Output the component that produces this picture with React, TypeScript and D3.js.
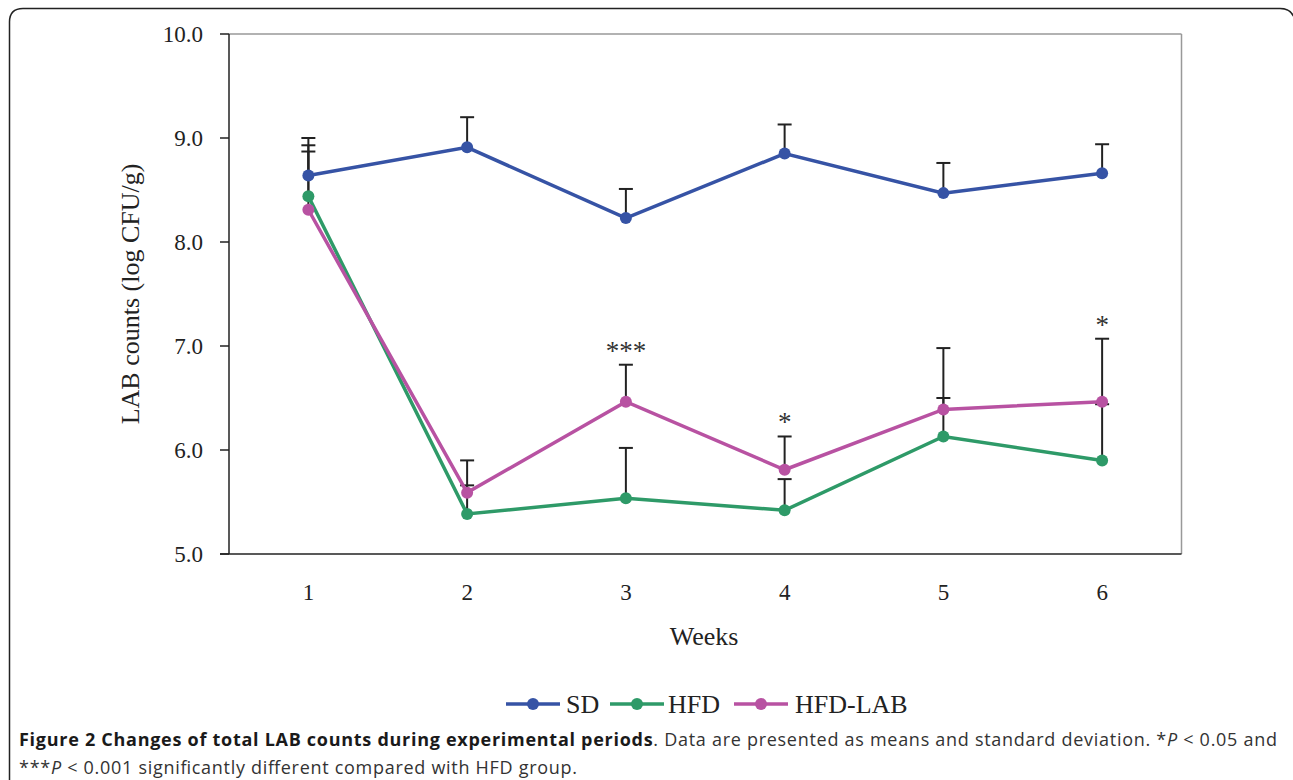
import React from "react";
import * as d3 from "d3";

const weeks = [1, 2, 3, 4, 5, 6];
const sdMean = [8.64, 8.91, 8.23, 8.85, 8.47, 8.66];
const sdErr = [9.0, 9.2, 8.51, 9.13, 8.76, 8.94];
const hfdMean = [8.44, 5.385, 5.535, 5.42, 6.13, 5.9];
const hfdErr = [8.93, 5.66, 6.02, 5.72, 6.5, 6.44];
const labMean = [8.31, 5.59, 6.465, 5.81, 6.39, 6.465];
const labErr = [8.87, 5.9, 6.82, 6.13, 6.98, 7.07];
const yTicks = [5, 6, 7, 8, 9, 10];
const marks = [
  { week: 3, value: 6.82, text: "***" },
  { week: 4, value: 6.13, text: "*" },
  { week: 6, value: 7.07, text: "*" },
];

const seriesList = [
  { name: "SD", color: "#3653a5", mean: sdMean, err: sdErr },
  { name: "HFD", color: "#2e9a68", mean: hfdMean, err: hfdErr },
  { name: "HFD-LAB", color: "#b852a2", mean: labMean, err: labErr },
];

export default function App() {
  const W = 1293, H = 780;
  const left = 229, right = 1181.5, top = 34, bottom = 554;
  const x = d3.scaleBand<number>().domain(weeks).range([left, right]);
  const cx = (w: number) => (x(w) as number) + x.bandwidth() / 2;
  const y = d3.scaleLinear().domain([5, 10]).range([bottom, top]);
  const line = d3.line<number>().x((_, i) => cx(weeks[i])).y((v) => y(v));
  const serif = "'Liberation Serif', 'DejaVu Serif', serif";
  const sans = "'Open Sans', 'Noto Sans', sans-serif";
  const legendItems = [
    { x0: 506, tx: 566 },
    { x0: 610, tx: 668 },
    { x0: 734, tx: 795 },
  ];
  return (
    <svg width={W} height={H} style={{ position: "absolute", left: 0, top: 0, background: "#fff" }}>
      <path d={`M9.5,790 L9.5,22 Q9.5,8.5 23,8.5 L1280,8.5 Q1292,8.5 1295,20`} fill="none" stroke="#222" strokeWidth={1.5} />
      {/* frame */}
      <line x1={left} x2={right} y1={top} y2={top} stroke="#999" strokeWidth={1.5} />
      <line x1={right} x2={right} y1={top} y2={bottom} stroke="#999" strokeWidth={1.5} />
      <line x1={left} x2={left} y1={top} y2={bottom} stroke="#222" strokeWidth={1.5} />
      <line x1={220} x2={right} y1={bottom} y2={bottom} stroke="#222" strokeWidth={1.5} />
      {yTicks.map((t) => (
        <g key={t}>
          <line x1={220} x2={left} y1={y(t)} y2={y(t)} stroke="#222" strokeWidth={1.5} />
          <text x={203} y={y(t) + 8} textAnchor="end" fontFamily={serif} fontSize={23} fill="#222">{t.toFixed(1)}</text>
        </g>
      ))}
      {weeks.map((w) => (
        <text key={w} x={cx(w)} y={600} textAnchor="middle" fontFamily={serif} fontSize={23} fill="#222">{w}</text>
      ))}
      <text x={704} y={645} textAnchor="middle" fontFamily={serif} fontSize={26} fill="#222">Weeks</text>
      <text transform={`translate(139,294) rotate(-90)`} textAnchor="middle" fontFamily={serif} fontSize={26} fill="#222">LAB counts (log CFU/g)</text>
      {/* error bars */}
      {seriesList.map((s) => (
        <g key={s.name + "err"}>
          {weeks.map((w, i) => (
            <g key={w}>
              <line x1={cx(w)} x2={cx(w)} y1={y(s.mean[i])} y2={y(s.err[i])} stroke="#222" strokeWidth={2} />
              <line x1={cx(w) - 7} x2={cx(w) + 7} y1={y(s.err[i])} y2={y(s.err[i])} stroke="#222" strokeWidth={2} />
            </g>
          ))}
        </g>
      ))}
      {seriesList.map((s) => (
        <g key={s.name}>
          <path d={line(s.mean) || ""} fill="none" stroke={s.color} strokeWidth={3.5} />
          {weeks.map((w, i) => (
            <circle key={w} cx={cx(w)} cy={y(s.mean[i])} r={6} fill={s.color} />
          ))}
        </g>
      ))}
      {marks.map((m) => (
        <text key={m.week} x={cx(m.week)} y={y(m.value) - 5} textAnchor="middle" fontFamily={serif} fontSize={27} fill="#333">{m.text}</text>
      ))}
      {/* legend */}
      {seriesList.map((s, i) => (
        <g key={s.name + "leg"}>
          <line x1={legendItems[i].x0} x2={legendItems[i].x0 + 54} y1={704} y2={704} stroke={s.color} strokeWidth={3.5} />
          <circle cx={legendItems[i].x0 + 27} cy={704} r={6} fill={s.color} />
          <text x={legendItems[i].tx} y={713} fontFamily={serif} fontSize={26} fill="#222">{s.name}</text>
        </g>
      ))}
      {/* caption */}
      <text x={19} y={746} fontFamily={sans} fontSize={18} fill="#333" textLength={1258} lengthAdjust="spacing">
        <tspan fontWeight="bold" fill="#1a1a1a">Figure 2 Changes of total LAB counts during experimental periods</tspan>
        <tspan>. Data are presented as means and standard deviation. *</tspan>
        <tspan fontStyle="italic">P</tspan>
        <tspan> &lt; 0.05 and</tspan>
      </text>
      <text x={19} y={774} fontFamily={sans} fontSize={18} fill="#333" textLength={558} lengthAdjust="spacing">
        <tspan>***</tspan>
        <tspan fontStyle="italic">P</tspan>
        <tspan> &lt; 0.001 significantly different compared with HFD group.</tspan>
      </text>
    </svg>
  );
}
